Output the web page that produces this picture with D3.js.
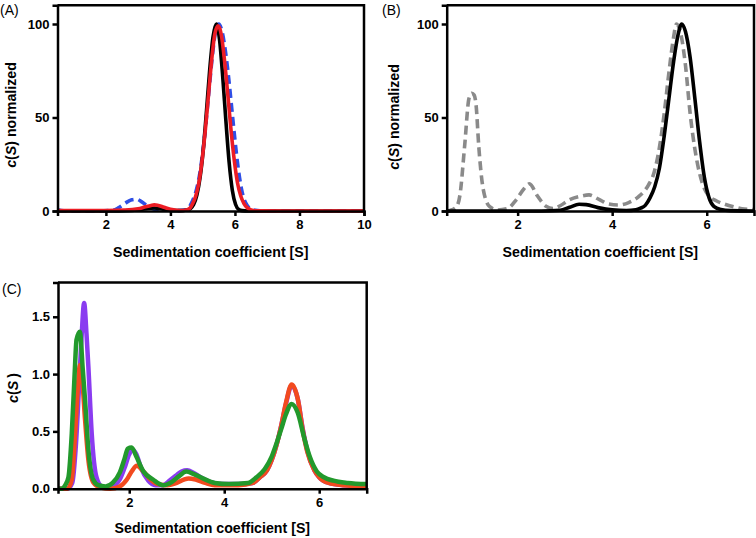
<!DOCTYPE html>
<html><head><meta charset="utf-8">
<script src="https://cdn.jsdelivr.net/npm/d3@7"></script>
<style>
html,body{margin:0;padding:0;background:#fff;}
svg{display:block;}
text{font-family:"Liberation Sans",Arial,Helvetica,sans-serif;fill:#000;}
</style></head>
<body>
<svg id="chart" width="756" height="538"></svg>
<script>
// ---------- Panel A ----------
const aBlackS = [0.5,2.0,2.8,3.1,3.3,3.5,3.7,3.9,4.1,4.3,4.52,4.62,4.72,4.82,4.92,5.02,5.12,5.22,5.32,5.42,5.52,5.62,5.72,5.82,5.92,6.02,6.12,6.22,6.4,10];
const aBlackV = [0,0,0.3,0.9,1.4,1.6,1.2,0.5,0.2,0.2,0.5,1.3,3.5,8.5,18,33,54,76,93,100,92,72,48,26,11,3.5,0.8,0.2,0,0];
const aRedS = [0.5,2.0,2.6,3.0,3.2,3.4,3.5,3.6,3.8,4.0,4.2,4.4,4.5,4.6,4.68,4.78,4.88,4.98,5.08,5.18,5.28,5.38,5.48,5.58,5.68,5.78,5.88,5.98,6.08,6.18,6.28,6.38,6.5,6.7,7.5,10];
const aRedV = [0.3,0.3,0.5,1.2,2.1,3.0,3.3,3.1,2.0,0.9,0.4,0.3,0.6,1.4,3.6,7.8,15,27,43,62,81,95,99,94,80,62,43,27,15,8,4,1.8,0.6,0.1,0,0];
const aBlueS = [0.5,0.7,1.5,2.2,2.4,2.6,2.8,2.95,3.1,3.3,3.5,3.8,4.2,4.5,4.6,4.7,4.8,4.9,5.0,5.1,5.2,5.3,5.4,5.5,5.6,5.7,5.8,5.9,6.0,6.1,6.2,6.3,6.4,6.5,6.7,7.0,10];
const aBlueV = [0.6,0.1,0,0.3,1.8,4.2,6.0,6.3,5.0,2.5,1.0,0.5,0.2,0.6,2.5,6,11,19,31,47,65,83,96,100,96,86,72,55,38,23,12,5.5,2.5,1,0.2,0,0];
const aXTicks = [2,4,6,8,10];
const aYTicks = [0,50,100];

// ---------- Panel B ----------
const bBlackS = [0.5,2.5,2.9,3.1,3.3,3.45,3.7,4.0,4.3,4.5,4.6,4.7,4.8,4.9,5.0,5.1,5.2,5.3,5.4,5.47,5.55,5.65,5.75,5.85,5.95,6.05,6.15,6.3,6.5,7];
const bBlackV = [0,0,0.4,2.0,3.6,3.4,1.8,0.6,0.3,0.6,1.5,3,7,13,23,40,60,80,95,100,96,82,60,37,18,7,2.5,0.8,0.2,0];
const bGrayS = [0.5,0.57,0.7,0.78,0.88,0.97,1.03,1.08,1.12,1.18,1.27,1.41,1.58,1.79,1.97,2.14,2.25,2.42,2.6,2.75,2.9,3.09,3.3,3.51,3.72,3.93,4.14,4.35,4.56,4.77,4.88,5.0,5.1,5.2,5.3,5.36,5.45,5.55,5.65,5.75,5.85,5.95,6.05,6.2,6.4,6.6,6.8,7];
const bGrayV = [0,0.3,2,8.5,35,60,63,62,57,34,12,2.3,0.5,1.3,6,12,14.5,8,2.5,1.3,2.8,5.9,7.7,8.6,6.2,3.7,3.2,4.5,7.7,14,20,34,52,74,93,100,95,78,52,33,20,12,8,5.5,3.5,2,1,0.8];
const bXTicks = [2,4,6];
const bYTicks = [0,50,100];

// ---------- Panel C ----------
const cPurpleS = [0.5,0.7,0.8,0.88,0.95,1.0,1.05,1.1,1.14,1.21,1.31,1.42,1.55,1.7,1.8,1.9,2.0,2.07,2.15,2.25,2.4,2.55,2.7,2.85,3.0,3.1,3.22,3.35,3.5,3.7,4.0,4.3,4.6,4.75,4.9,5.0,5.1,5.2,5.3,5.42,5.55,5.65,5.75,5.9,6.0,6.2,6.5,7];
const cPurpleV = [0,0,0.05,0.4,0.95,1.35,1.62,1.35,1.06,0.48,0.1,0.02,0.01,0.03,0.08,0.18,0.3,0.34,0.3,0.18,0.07,0.03,0.03,0.07,0.12,0.15,0.16,0.14,0.1,0.06,0.04,0.04,0.05,0.1,0.16,0.25,0.38,0.55,0.74,0.9,0.78,0.53,0.33,0.16,0.1,0.05,0.03,0.02];
const cOrangeS = [0.5,0.7,0.79,0.86,0.92,0.96,1.0,1.07,1.14,1.25,1.4,1.6,1.8,1.95,2.05,2.16,2.3,2.45,2.6,2.8,3.0,3.15,3.25,3.4,3.6,3.8,4.0,4.3,4.6,4.75,4.9,5.0,5.1,5.2,5.3,5.42,5.55,5.65,5.75,5.9,6.0,6.2,6.5,7];
const cOrangeV = [0,0,0.08,0.48,0.9,1.08,1.0,0.6,0.25,0.05,0.01,0,0.02,0.08,0.15,0.2,0.15,0.08,0.04,0.03,0.05,0.08,0.09,0.08,0.05,0.03,0.03,0.03,0.05,0.1,0.16,0.25,0.38,0.55,0.75,0.91,0.78,0.52,0.32,0.16,0.1,0.05,0.03,0.02];
const cGreenS = [0.5,0.58,0.65,0.72,0.79,0.85,0.89,0.96,1.02,1.07,1.14,1.24,1.35,1.5,1.65,1.8,1.9,1.97,2.05,2.15,2.3,2.5,2.72,2.9,3.05,3.2,3.35,3.55,3.8,4.1,4.5,4.68,4.85,5.0,5.08,5.2,5.3,5.42,5.55,5.68,5.8,5.95,6.1,6.3,6.6,7];
const cGreenV = [0,0,0.03,0.1,0.48,1.0,1.3,1.37,1.05,0.77,0.34,0.08,0.03,0.02,0.05,0.14,0.26,0.35,0.36,0.28,0.15,0.08,0.03,0.06,0.11,0.15,0.13,0.09,0.05,0.04,0.05,0.1,0.17,0.28,0.37,0.52,0.65,0.74,0.66,0.45,0.28,0.15,0.1,0.07,0.05,0.04];
const cXTicks = [2,4,6];
const cYTicks = [0,0.5,1.0,1.5];

const svg = d3.select("#chart");
const zip = (s, v) => s.map((d, i) => [d, v[i]]);

function panel(o) {
  const x = d3.scaleLinear().domain(o.xDomain).range([o.left, o.right]);
  const y = d3.scaleLinear().domain(o.yDomain).range([o.bottom, o.top]);
  const g = svg.append("g");
  const line = d3.line().x(d => x(d[0])).y(d => y(d[1])).curve(d3.curveMonotoneX);
  o.series.forEach(s => {
    g.append("path").datum(zip(s.s, s.v))
      .attr("d", line).attr("fill", "none")
      .attr("stroke", s.color).attr("stroke-width", s.width)
      .attr("stroke-dasharray", s.dash || null)
      .attr("stroke-linejoin", "round");
  });
  g.append("path").attr("d", `M${o.left},${o.top}H${o.right}V${o.bottom}`)
    .attr("fill", "none").attr("stroke", "#000").attr("stroke-width", 2.5);
  const ax = g.append("g").attr("transform", `translate(0,${o.bottom})`)
    .call(d3.axisBottom(x).tickValues(o.xTicks).tickSizeOuter(0).tickSize(5).tickPadding(4).tickFormat(d3.format("d")));
  const ay = g.append("g").attr("transform", `translate(${o.left},0)`)
    .call(d3.axisLeft(y).tickValues(o.yTicks).tickSizeOuter(0).tickSize(5).tickPadding(3).tickFormat(o.yFmt));
  [ax, ay].forEach(a => {
    a.select(".domain").attr("stroke", "#000").attr("stroke-width", 2.5);
    a.selectAll(".tick line").attr("stroke", "#000").attr("stroke-width", 2.5);
    a.selectAll(".tick text").attr("font-size", 13).attr("font-weight", "bold")
      .attr("font-family", '"Liberation Sans",Arial,Helvetica,sans-serif').attr("fill", "#000");
  });
  g.append("text").attr("x", (o.left + o.right) / 2 + o.xtDx).attr("y", o.xtY)
    .attr("text-anchor", "middle").attr("font-size", 14.2).attr("font-weight", "bold")
    .text("Sedimentation coefficient [S]");
  const yt = g.append("text").attr("transform", `translate(${o.ytX},${o.ytY}) rotate(-90)`)
    .attr("text-anchor", "middle").attr("font-size", 14.2).attr("font-weight", "bold");
  yt.append("tspan").attr("font-style", "italic").text("c");
  yt.append("tspan").text("(");
  yt.append("tspan").attr("font-style", "italic").text("S");
  yt.append("tspan").attr("dx", o.parenDx).text(")");
  if (o.yTitleRest) yt.append("tspan").text(o.yTitleRest);
  g.append("text").attr("x", o.labX).attr("y", o.labY).attr("font-size", 14).text(o.label);
}

panel({
  label: "(A)", labX: 0, labY: 15,
  xDomain: [0.5, 10], yDomain: [0, 110], left: 57.5, right: 364, top: 5.3, bottom: 211,
  xTicks: aXTicks, yTicks: aYTicks, yFmt: d3.format("d"),
  xtY: 257, xtDx: 0, ytX: 16, ytY: 115, parenDx: 0, yTitleRest: " normalized",
  series: [
    {s: aBlueS, v: aBlueV, color: "#2f4fe6", width: 3.6, dash: "9,5"},
    {s: aBlackS, v: aBlackV, color: "#000", width: 3.6},
    {s: aRedS, v: aRedV, color: "#ec1c24", width: 3.6}
  ]
});
panel({
  label: "(B)", labX: 382, labY: 15,
  xDomain: [0.5, 7], yDomain: [0, 110], left: 446.7, right: 754, top: 5.3, bottom: 211,
  xTicks: bXTicks, yTicks: bYTicks, yFmt: d3.format("d"),
  xtY: 257, xtDx: 0, ytX: 399, ytY: 117, parenDx: 0, yTitleRest: " normalized",
  series: [
    {s: bGrayS, v: bGrayV, color: "#8a8a8a", width: 3.6, dash: "9,5"},
    {s: bBlackS, v: bBlackV, color: "#000", width: 3.6}
  ]
});
panel({
  label: "(C)", labX: 2, labY: 294,
  xDomain: [0.5, 7], yDomain: [0, 1.8], left: 58, right: 366.7, top: 282.4, bottom: 488.7,
  xTicks: cXTicks, yTicks: cYTicks, yFmt: d3.format(".1f"),
  xtY: 533, xtDx: 0, ytX: 18, ytY: 388, parenDx: 3, yTitleRest: null,
  series: [
    {s: cPurpleS, v: cPurpleV, color: "#8a3cf0", width: 4.5},
    {s: cOrangeS, v: cOrangeV, color: "#f24a1f", width: 4.5},
    {s: cGreenS, v: cGreenV, color: "#22992c", width: 4.5}
  ]
});
</script>
</body></html>
